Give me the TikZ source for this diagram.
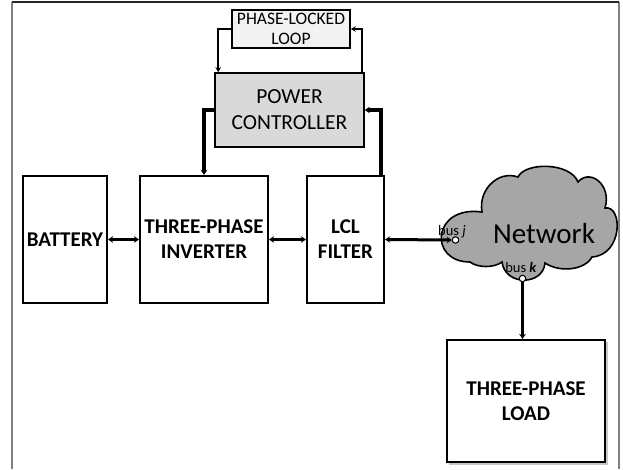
\documentclass[tikz,border=0pt]{standalone}
\usepackage{fontspec}
\setmainfont{Carlito}
\usetikzlibrary{arrows.meta,calc}
\definecolor{pllfill}{HTML}{F2F2F2}
\definecolor{pcfill}{HTML}{D9D9D9}
\definecolor{cloudfill}{HTML}{A6A6A6}
\definecolor{framegray}{HTML}{808080}
\begin{document}
\begin{tikzpicture}[x=1pt,y=-1pt,
  box/.style={draw=black,line width=2pt,rectangle,inner sep=0pt,align=center,fill=white},
  boldlabel/.style={font=\fontsize{21}{25}\selectfont\bfseries},
  thinarrow/.style={line width=1.8pt,-{Stealth[length=5pt,width=5.5pt]}},
  thickarrow/.style={line width=3.2pt,-{Stealth[length=5pt,width=6.5pt]}},
  biarrow/.style={line width=3pt,{Stealth[length=5pt,width=6.5pt]}-{Stealth[length=5pt,width=6.5pt]}},
  busdot/.style={circle,draw=black,fill=white,line width=1pt,minimum size=6.5pt,inner sep=0pt}]
\useasboundingbox (0,0) rectangle (623,469);
% frame
\draw[framegray,line width=2pt] (12,469) -- (12,2);
\draw[framegray,line width=2pt] (619,2) -- (619,469);
\draw[black!85,line width=1.8pt] (12,2) -- (619,2);

% boxes
\node[box,fill=pllfill,line width=1.6pt,minimum width=118pt,minimum height=38pt,
      font=\fontsize{17.5}{20}\selectfont] (pll) at (291,29) {PHASE-LOCKED\\LOOP};
\node[box,fill=pcfill,line width=1.6pt,minimum width=149pt,minimum height=74pt,
      font=\fontsize{21.5}{26}\selectfont] (pc) at (289.5,110) {POWER\\CONTROLLER};
\node[box,boldlabel,minimum width=84pt,minimum height=127pt] (bat) at (65,239.5) {BATTERY};
\node[box,boldlabel,minimum width=128pt,minimum height=127pt] (inv) at (204,239.5) {THREE-PHASE\\INVERTER};
\node[box,boldlabel,minimum width=77pt,minimum height=127pt] (lcl) at (345.5,239.5) {LCL\\FILTER};
\fill[black!22] (449,342) rectangle (607.5,464.5);
\node[box,boldlabel,minimum width=158pt,minimum height=122pt] (load) at (526,401) {THREE-PHASE\\LOAD};

% cloud
\draw[fill=cloudfill,line width=1.6pt]
  (482,212) .. controls (432,205) and (428,262) .. (470,262)
  .. controls (478,268) and (494,268) .. (502,262)
  .. controls (505,286) and (543,286) .. (545,263)
  .. controls (560,273) and (585,270) .. (592,257)
  .. controls (623,255) and (623,205) .. (605,208)
  .. controls (612,185) and (590,168) .. (578,182)
  .. controls (570,162) and (525,162) .. (518,177)
  .. controls (498,170) and (478,190) .. (482,212) -- cycle;
\node[font=\fontsize{29}{31}\selectfont] (net) at (544,234) {Network};
\node[busdot] (busj) at (455.5,240) {};
\node[busdot] (busk) at (522.5,278.5) {};
\node[font=\fontsize{14.5}{16}\selectfont,anchor=base] (bjl) at (452,235.5) {bus \textit{j}};
\node[font=\fontsize{14.5}{16}\selectfont,anchor=base] (bkl) at (521,272.5) {bus \textbf{\textit{k}}};

% connectors
\draw[thinarrow] (pll.west) -| ([xshift=4pt]pc.north west);
\draw[thinarrow] ([xshift=-3pt]pc.north east) |- (pll.east);
\draw[thickarrow] (pc.west) -| (inv.north);
\draw[thickarrow] ([xshift=-4pt]lcl.north east) |- (pc.east);
\draw[biarrow] (bat.east) -- (inv.west);
\draw[biarrow] (inv.east) -- (lcl.west);
\draw[biarrow] (lcl.east) -- (busj.west);
\draw[thickarrow] (busk.south) -- (busk.south |- load.north);
\end{tikzpicture}
\end{document}
